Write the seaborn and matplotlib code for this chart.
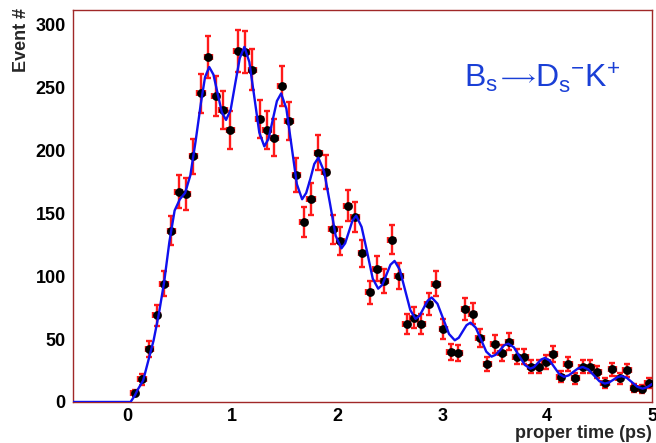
import numpy as np
import pandas as pd
import matplotlib
matplotlib.use("Agg")
import matplotlib.pyplot as plt
from matplotlib.ticker import MultipleLocator
from matplotlib.transforms import IdentityTransform
import seaborn as sns

# ---- data ----
bin_t = [0.07, 0.14, 0.21, 0.28, 0.35, 0.42, 0.49, 0.56, 0.63, 0.70,
         0.77, 0.84, 0.91, 0.98, 1.05, 1.12, 1.19, 1.26, 1.33, 1.40,
         1.47, 1.54, 1.61, 1.68, 1.75, 1.82, 1.89, 1.96, 2.03, 2.10,
         2.17, 2.24, 2.31, 2.38, 2.45, 2.52, 2.59, 2.66, 2.73, 2.80,
         2.87, 2.94, 3.01, 3.08, 3.15, 3.22, 3.29, 3.36, 3.43, 3.50,
         3.57, 3.64, 3.71, 3.78, 3.85, 3.92, 3.99, 4.06, 4.13, 4.20,
         4.27, 4.34, 4.41, 4.48, 4.55, 4.62, 4.69, 4.76, 4.83, 4.90, 4.97]
counts = [7, 18, 42, 69, 94, 136, 167, 165, 195, 245,
          274, 243, 232, 216, 279, 278, 264, 225, 216, 210,
          251, 223, 180, 143, 161, 198, 183, 137, 128, 156,
          147, 118, 87, 106, 96, 129, 100, 62, 67, 62,
          78, 94, 58, 40, 39, 74, 70, 51, 30, 46,
          39, 48, 36, 36, 28, 28, 32, 38, 20, 30,
          19, 28, 28, 24, 15, 26, 19, 25, 11, 10, 15]
count_err = [2.6, 4.2, 6.5, 8.3, 9.7, 11.7, 12.9, 12.8, 14.0, 15.7,
             16.6, 15.6, 15.2, 14.7, 16.7, 16.7, 16.2, 15.0, 14.7, 14.5,
             15.8, 14.9, 13.4, 12.0, 12.7, 14.1, 13.5, 11.7, 11.3, 12.5,
             12.1, 10.9, 9.3, 10.3, 9.8, 11.4, 10.0, 7.9, 8.2, 7.9,
             8.8, 9.7, 7.6, 6.3, 6.2, 8.6, 8.4, 7.1, 5.5, 6.8,
             6.2, 6.9, 6.0, 6.0, 5.3, 5.3, 5.7, 6.2, 4.5, 5.5,
             4.4, 5.3, 5.3, 4.9, 3.9, 5.1, 4.4, 5.0, 3.3, 3.2, 3.9]
half_bin = 0.035

curve_t = [-0.52, 0.03, 0.07, 0.10, 0.15, 0.20, 0.25, 0.30, 0.35, 0.40,
           0.45, 0.50, 0.55, 0.60, 0.65, 0.70, 0.74, 0.78, 0.82, 0.86,
           0.90, 0.94, 0.984, 1.028, 1.071, 1.115, 1.162, 1.21, 1.257, 1.305,
           1.345, 1.385, 1.425, 1.465, 1.515, 1.565, 1.615, 1.665, 1.704, 1.743,
           1.781, 1.82, 1.875, 1.93, 1.985, 2.04, 2.075, 2.11, 2.145, 2.18,
           2.232, 2.285, 2.338, 2.39, 2.429, 2.468, 2.507, 2.546, 2.596, 2.646,
           2.696, 2.746, 2.785, 2.823, 2.862, 2.90, 2.955, 3.01, 3.065, 3.12,
           3.158, 3.195, 3.232, 3.27, 3.32, 3.37, 3.42, 3.47, 3.51, 3.55,
           3.59, 3.63, 3.683, 3.735, 3.788, 3.84, 3.875, 3.91, 3.945, 3.98,
           4.025, 4.07, 4.115, 4.16, 4.205, 4.25, 4.295, 4.34, 4.392, 4.445,
           4.498, 4.55, 4.59, 4.63, 4.67, 4.71, 4.76, 4.81, 4.86, 4.91,
           4.955, 5.0]
curve_v = [0, 0, 5, 10, 17, 33, 49, 70, 95, 127,
           152, 161, 166, 180, 207, 237, 258, 266, 260, 245,
           230, 224, 232, 253, 273, 282, 270, 242, 214, 203,
           209, 224, 239, 245, 233, 203, 173, 161, 166, 177,
           189, 194, 183, 158, 132, 122, 126, 135, 144, 148,
           139, 119, 98, 90, 93, 101, 109, 112, 105, 89,
           73, 66, 68.5, 74.5, 80.5, 83, 78, 66, 54, 49,
           51, 56, 61, 63, 59, 49.5, 40, 36, 37.5, 41,
           45, 46.3, 43.4, 36.4, 29.4, 26.5, 27.7, 30.8, 33.8, 35,
           32.8, 27.5, 22.2, 20, 21.1, 23.9, 26.7, 27.8, 25.9, 21.2,
           16.5, 14.6, 15.5, 17.6, 19.7, 20.6, 19.1, 15.6, 12.1, 10.6,
           11.8, 14.3]

x_ticks = [0, 1, 2, 3, 4, 5]
y_ticks = [0, 50, 100, 150, 200, 250, 300]
x_label = "proper time (ps)"
y_label = "Event #"

# ---- style ----
sns.set_style("white")
plt.rcParams['font.family'] = ['Liberation Sans', 'DejaVu Sans']
plt.rcParams['mathtext.fontset'] = 'custom'
plt.rcParams['mathtext.rm'] = 'Liberation Sans'
plt.rcParams['mathtext.it'] = 'Liberation Sans'
plt.rcParams['mathtext.fallback'] = 'stixsans'

fig = plt.figure(figsize=(6.56, 4.43), dpi=100)
ax = fig.add_axes([0.111, 0.0926, 0.883, 0.884])

df_pts = pd.DataFrame({"t": bin_t, "n": counts})
df_fit = pd.DataFrame({"t": curve_t, "v": curve_v})

ax.errorbar(bin_t, counts, yerr=count_err, xerr=half_bin, fmt='none',
            ecolor='#ff1a1a', elinewidth=1.7, capsize=2.0, capthick=1.7, zorder=2)
sns.scatterplot(data=df_pts, x="t", y="n", color='black', s=40,
                edgecolor='black', linewidth=0, ax=ax, zorder=3)
sns.lineplot(data=df_fit, x="t", y="v", sort=False, estimator=None,
             color='#1010ee', linewidth=1.7, ax=ax, zorder=4)

ax.set_xlim(-0.52, 5.0)
ax.set_ylim(0, 311)
ax.set_xticks(x_ticks)
ax.set_yticks(y_ticks)
ax.xaxis.set_minor_locator(MultipleLocator(0.2))
ax.yaxis.set_minor_locator(MultipleLocator(10))
ax.tick_params(axis='both', which='both', direction='in', colors='#555555',
               labelcolor='black', top=False, right=False)
ax.tick_params(axis='y', which='major', length=17, width=1, pad=5)
ax.tick_params(axis='y', which='minor', length=8, width=1)
ax.tick_params(axis='x', which='major', length=12, width=1, pad=4)
ax.tick_params(axis='x', which='minor', length=6, width=1)
for lab in ax.get_xticklabels() + ax.get_yticklabels():
    lab.set_fontsize(13)
    lab.set_fontweight('bold')

for sp in ax.spines.values():
    sp.set_visible(True)
    sp.set_color('#a02828')
    sp.set_linewidth(1.0)

ax.set_xlabel(x_label, fontsize=13, fontweight='bold', ha='right', va='bottom')
ax.xaxis.set_label_coords(1.0, -0.102)
ax.set_ylabel(y_label, fontsize=13, fontweight='bold', ha='right')
ax.yaxis.set_label_coords(-0.074, 1.005)

# decay-channel label, built from three text pieces laid side by side
title_color = '#1a3fd6'
renderer = fig.canvas.get_renderer()
bx, by = ax.transAxes.transform((0.675, 0.8036))
t1 = ax.text(bx, by, r'$\mathregular{B_{s}}$', transform=IdentityTransform(),
             color=title_color, fontsize=23, ha='left', va='baseline')
bb1 = t1.get_window_extent(renderer)
t2 = ax.text(bb1.x1 - 1, by + 4, r'$\longrightarrow$', transform=IdentityTransform(),
             color=title_color, fontsize=16, ha='left', va='baseline')
bb2 = t2.get_window_extent(renderer)
t3 = ax.text(bb2.x1 - 1, by, r'$\mathregular{D_{s}{}^{-}K^{+}}$',
             transform=IdentityTransform(), color=title_color, fontsize=23,
             ha='left', va='baseline')

fig.savefig("out.png", dpi=100, facecolor='white')
